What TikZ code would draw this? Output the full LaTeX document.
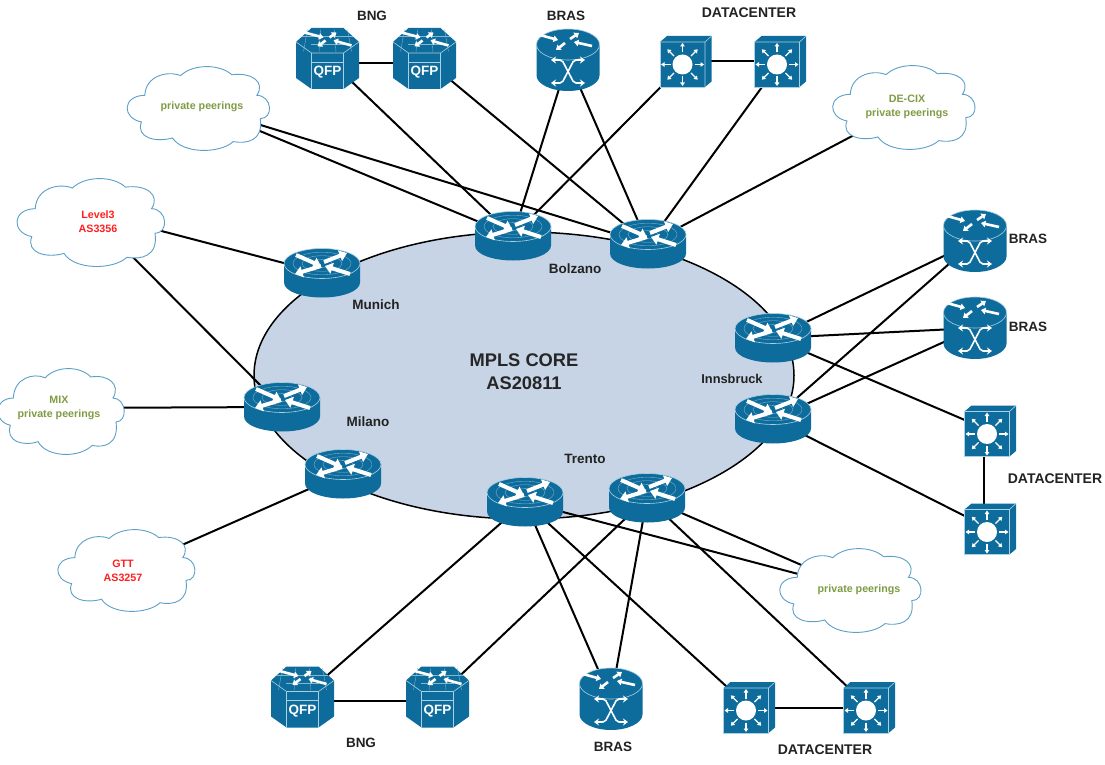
\documentclass[tikz,border=0pt]{standalone}
\usepackage{fontspec}
\setmainfont{Liberation Sans}
\usetikzlibrary{positioning, shapes.geometric, arrows.meta}
\pgfdeclarelayer{background}
\pgfsetlayers{background,main}
\definecolor{devblue}{HTML}{0E6C9C}
\definecolor{devline}{HTML}{A9D0E3}
\definecolor{corefill}{HTML}{C6D4E5}
\definecolor{cloudline}{HTML}{5CA0C8}
\definecolor{peergreen}{HTML}{7F9C45}
\definecolor{peerred}{HTML}{FF1F1F}
\definecolor{labeltext}{HTML}{222222}

\tikzset{
  rim/.style={draw=devline, line width=0.6pt},
  wave/.style={draw=devline!75!devblue, line width=0.35pt},
  bigarrow/.style={draw=white, line width=4pt, -{Triangle[length=7.5pt,width=11pt]}},
  smallarrow/.style={draw=white, line width=2.6pt, -{Triangle[length=4.5pt,width=6.5pt]}},
  thinarrow/.style={draw=white, line width=1.1pt, -{Triangle[length=3.5pt,width=4.5pt]}},
  crossarrow/.style={draw=white, line width=1.6pt, rounded corners=2pt, {Stealth[length=5pt,width=7pt]}-{Stealth[length=5pt,width=7pt]}},
  pics/routericon/.style={code={
    \fill[devblue] (-38,-9.5) -- (-38,9.5) .. controls (-38,18) and (-21,24.5) .. (0,24.5)
      .. controls (21,24.5) and (38,18) .. (38,9.5) -- (38,-9.5) -- cycle;
    \fill[devblue] (0,-9.5) ellipse [x radius=38, y radius=15];
    \foreach \r in {10,20,29} {\draw[wave] (0,-9.5) ellipse [x radius=\r, y radius=\r*0.39];}
    \draw[rim] (0,-9.5) ellipse [x radius=38, y radius=15];
    \draw[bigarrow] (-26,-18) -- (-1,-7);
    \draw[bigarrow] (2,-11) -- (25,-20);
    \draw[bigarrow] (-1,-7) -- (-27,1);
    \draw[bigarrow] (28,1) -- (3,-7);
  }},
  pics/brasicon/.style={code={
    \fill[devblue] (-31.5,-15.5) -- (-31.5,15.5) .. controls (-31.5,24) and (-17,31) .. (0,31)
      .. controls (17,31) and (31.5,24) .. (31.5,15.5) -- (31.5,-15.5) -- cycle;
    \fill[devblue] (0,-15.5) ellipse [x radius=31.5, y radius=15.5];
    \draw[rim] (0,-15.5) ellipse [x radius=31.5, y radius=15.5];
    \draw[smallarrow] (-28,-25) -- (-10,-20);
    \draw[smallarrow] (2,-21) -- (11,-27);
    \draw[smallarrow] (-3,-17) -- (-12,-10);
    \draw[smallarrow] (24,-14) -- (6,-18);
    \draw[crossarrow] (-17,0) -- (-6,0) -- (6,23) -- (17,23);
    \draw[crossarrow] (17,0) -- (6,0) -- (-6,23) -- (-17,23);
  }},
  pics/qfpicon/.style={code={
    \fill[devblue] (-16,-30.5) -- (16,-30.5) -- (31.5,-16.5) -- (31.5,19.5) -- (16,30.5)
      -- (-16,30.5) -- (-31.5,19.5) -- (-31.5,-16.5) -- cycle;
    \foreach \d in {-20,-7,7,20} {\draw[wave] (\d,-29) -- (\d*1.2,-7);}
    \foreach \d in {-22,-14} {\draw[wave] (\d*1.15,\d) -- (-\d*1.15,\d);}
    \draw[rim] (-31.5,-16.5) -- (-16,-5.5) -- (16,-5.5) -- (31.5,-16.5);
    \draw[rim] (-16,-5.5) -- (-16,30.5) (16,-5.5) -- (16,30.5) (-16,3.5) -- (16,3.5);
    \draw[smallarrow] (-23,-26) -- (-4,-21);
    \draw[smallarrow] (2,-21) -- (9,-26);
    \draw[smallarrow] (-2,-18) -- (-10,-12);
    \draw[smallarrow] (24,-13) -- (6,-18);
  }},
  pics/switchicon/.style={code={
    \fill[devblue] (-26,-19.5) -- (-19,-25.5) -- (25.5,-25.5) -- (25.5,20) -- (19,25.5) -- (-26,25.5) -- cycle;
    \draw[rim] (-26,-19.5) -- (19,-19.5) -- (19,25.5) (19,-19.5) -- (25.5,-25.5);
    \draw[rim] (-26,-19.5) -- (-26,25.5) -- (19,25.5);
    \fill[white] (-3.5,3) circle [radius=10];
    \foreach \a in {0,45,...,315} {\draw[thinarrow] (-3.5,3) ++(\a:12) -- ++(\a:9.5);}
  }},
  routerbox/.style={ellipse, minimum width=40pt, minimum height=20pt, inner sep=0pt},
  brasbox/.style={rectangle, minimum size=30pt, inner sep=0pt},
  qfpbox/.style={rectangle, minimum size=30pt, inner sep=0pt},
  switchbox/.style={rectangle, minimum size=24pt, inner sep=0pt},
  qfptext/.style={text=white, font=\fontsize{13.5}{15}\selectfont\bfseries, inner sep=0pt},
  peercloud/.style={draw=cloudline, fill=white, line width=0.9pt},
  peertext/.style={align=center, inner sep=0pt, font=\fontsize{10.7}{14}\selectfont\bfseries},
  sitelabel/.style={text=labeltext, font=\fontsize{13.5}{15}\selectfont\bfseries, inner sep=0pt},
  dclabel/.style={sitelabel, font=\fontsize{14}{15}\selectfont\bfseries},
  link/.style={draw=black, line width=2pt}
}

\newcommand{\routernode}[2]{\pic at (#2) {routericon}; \node[routerbox] (#1) at (#2) {};}
\newcommand{\brasnode}[2]{\pic at (#2) {brasicon}; \node[brasbox] (#1) at (#2) {};}
\newcommand{\qfpnode}[2]{\pic at (#2) {qfpicon}; \node[qfpbox] (#1) at (#2) {};
  \node[qfptext] (#1q) at ([yshift=-14pt]#1.center) {QFP};}
\newcommand{\switchnode}[2]{\pic at (#2) {switchicon}; \node[switchbox] (#1) at (#2) {};}
% centre, half width, half height
\newcommand{\cloudpath}[3]{\draw[peercloud, shift={(#1)}, x=#2pt, y=-#3pt]
  (-0.81,-0.31) .. controls (-0.80,-0.78) and (-0.48,-0.92) .. (-0.28,-0.79)
  .. controls (-0.10,-1.08) and (0.30,-1.08) .. (0.48,-0.81)
  .. controls (0.78,-0.88) and (0.98,-0.62) .. (0.85,-0.31)
  .. controls (1.08,-0.30) and (1.10,0.26) .. (0.90,0.26)
  .. controls (0.95,0.80) and (0.70,0.88) .. (0.50,0.82)
  .. controls (0.30,1.12) and (-0.25,1.12) .. (-0.40,0.73)
  .. controls (-0.65,0.85) and (-0.95,0.72) .. (-0.86,0.34)
  .. controls (-1.15,0.25) and (-1.15,-0.30) .. cycle;}

\begin{document}
\begin{tikzpicture}[x=1pt, y=-1pt]
    \useasboundingbox (0,0) rectangle (1105,765);

    % clouds
    \cloudpath{199.5,108}{67.5}{41}
    \node[peertext, text=peergreen] (peertop) at (202,107) {private peerings};
    \cloudpath{905,107}{67.5}{41}
    \node[peertext, text=peergreen] (decix) at (907,107) {DE-CIX\\private peerings};
    \cloudpath{92,222}{70}{43}
    \node[peertext, text=peerred] (level) at (98,222) {Level3\\AS3356};
    \cloudpath{62,411}{60}{42}
    \node[peertext, text=peergreen] (mix) at (59,408) {MIX\\private peerings};
    \cloudpath{127.5,570}{65}{40}
    \node[peertext, text=peerred] (gtt) at (123,571) {GTT\\AS3257};
    \cloudpath{851.5,590}{67}{41}
    \node[peertext, text=peergreen] (peerbot) at (859,590) {private peerings};
    \coordinate (levelport) at (150,228);

    % routers
    \routernode{bolzanoa}{513,236}
    \routernode{bolzanob}{648,244}
    \routernode{munich}{322,273}
    \routernode{milanoa}{282,407}
    \routernode{milanob}{343,474}
    \routernode{innsbrucka}{773,338}
    \routernode{innsbruckb}{773,419}
    \routernode{trentoa}{525,502}
    \routernode{trentob}{647,498}

    % access devices
    \brasnode{brastop}{568,60}
    \brasnode{brasa}{975,241}
    \brasnode{brasb}{975,328}
    \brasnode{brasbot}{611,699}
    \qfpnode{qfpa}{327.5,58.5}
    \qfpnode{qfpb}{424.5,58.5}
    \qfpnode{qfpc}{302.5,697}
    \qfpnode{qfpd}{437.5,697}
    \switchnode{swa}{686,61.5}
    \switchnode{swb}{780.5,61.5}
    \switchnode{swc}{990.5,431}
    \switchnode{swd}{990.5,529}
    \switchnode{swe}{749.5,707.5}
    \switchnode{swf}{869.5,707.5}

    % labels
    \node[sitelabel] (lbng) at (372,16) {BNG};
    \node[sitelabel] (lbras) at (566,16) {BRAS};
    \node[dclabel] (ldc) at (749,13) {DATACENTER};
    \node[sitelabel] (lbrasa) at (1028,239) {BRAS};
    \node[sitelabel] (lbrasb) at (1028,327) {BRAS};
    \node[dclabel] (ldcb) at (1055,479) {DATACENTER};
    \node[sitelabel] (lbngb) at (361,743) {BNG};
    \node[sitelabel] (lbrasc) at (613,747) {BRAS};
    \node[dclabel] (ldcc) at (825,750) {DATACENTER};
    \node[sitelabel] (lbolzano) at (575,269) {Bolzano};
    \node[sitelabel] (lmunich) at (376,305) {Munich};
    \node[sitelabel] (lmilano) at (368,422) {Milano};
    \node[sitelabel, font=\fontsize{12.8}{15}\selectfont\bfseries] (linnsbruck) at (732,379) {Innsbruck};
    \node[sitelabel] (ltrento) at (585,459) {Trento};

    \begin{pgfonlayer}{background}
    \node[ellipse, draw=black, line width=1.5pt, fill=corefill, minimum width=540pt, minimum height=287pt,
      align=center, text=black!85, text depth=7pt, font=\fontsize{18.3}{23}\selectfont\bfseries] (core) at (524,375.5) {MPLS CORE\\AS20811};

    \draw[link] (qfpa) -- (bolzanoa);
    \draw[link] (qfpb) -- (bolzanob);
    \draw[link] (qfpa.-18) -- (qfpb.198);
    \draw[link] (brastop) -- (bolzanoa);
    \draw[link] (brastop) -- (bolzanob);
    \draw[link] (swa) -- (bolzanoa);
    \draw[link] (swb) -- (bolzanob);
    \draw[link] (swa) -- (swb);
    \draw[link] (decix) -- (bolzanob);
    \draw[link] (peertop) -- (bolzanoa);
    \draw[link] (peertop) -- (bolzanob);
    \draw[link] (levelport) -- (munich);
    \draw[link] (level) -- (milanoa);
    \draw[link] (mix) -- (milanoa);
    \draw[link] (gtt) -- (milanob);
    \draw[link] (innsbrucka) -- (brasa);
    \draw[link] (innsbrucka) -- (brasb);
    \draw[link] (innsbruckb) -- (brasa);
    \draw[link] (innsbruckb) -- (brasb);
    \draw[link] (innsbrucka) -- (swc);
    \draw[link] (innsbruckb) -- (swd);
    \draw[link] (swc.-118) -- (swd.118);
    \draw[link] (trentoa) -- (qfpc);
    \draw[link] (trentob) -- (qfpd);
    \draw[link] (qfpc.-14) -- (qfpd.194);
    \draw[link] (trentoa) -- (brasbot);
    \draw[link] (trentob) -- (brasbot);
    \draw[link] (trentoa) -- (swe);
    \draw[link] (trentob) -- (swf);
    \draw[link] (swe) -- (swf);
    \draw[link] (trentoa) -- (peerbot);
    \draw[link] (trentob) -- (peerbot);
    \end{pgfonlayer}

\end{tikzpicture}
\end{document}
